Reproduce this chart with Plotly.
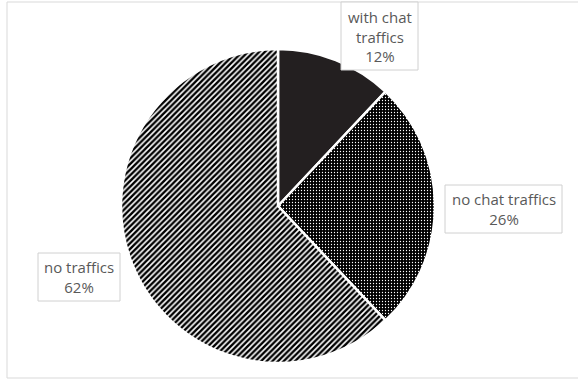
import plotly.graph_objects as go

categories = ["with chat traffics", "no chat traffics", "no traffics"]
shares = [12, 26, 62]
label_texts = ["with chat<br>traffics<br>12%", "no chat traffics<br>26%", "no traffics<br>62%"]

W, H = 578, 381

fig = go.Figure(go.Pie(
    labels=categories,
    values=shares,
    sort=False,
    direction="clockwise",
    rotation=0,
    textinfo="none",
    hoverinfo="label+percent",
    showlegend=False,
    marker=dict(
        colors=["#231f20", "#000000", "#ffffff"],
        line=dict(color="#ffffff", width=2.5),
        pattern=dict(
            shape=["", ".", "/"],
            fgcolor=["#231f20", "#ffffff", "#000000"],
            bgcolor=["#231f20", "#000000", "#ffffff"],
            size=[4, 3, 4],
            solidity=[0.3, 0.15, 0.6],
        ),
    ),
    domain=dict(x=[(278 - 157) / W, (278 + 157) / W],
                y=[(175 - 157) / H, (175 + 157) / H]),
))

def px(x):
    return x / W

def py(y):
    return 1 - y / H

# label boxes (x0, y0, x1, y1) in pixels
boxes = [(341, 2, 418, 70), (445, 185, 562, 233), (38, 253, 120, 301)]

shapes = [
    dict(type="rect", xref="paper", yref="paper",
         x0=px(7), x1=px(580), y0=py(378), y1=py(2),
         line=dict(color="#d9d9d9", width=1), fillcolor="rgba(0,0,0,0)", layer="below"),
]
annotations = []
for (x0, y0, x1, y1), txt in zip(boxes, label_texts):
    shapes.append(dict(type="rect", xref="paper", yref="paper",
                       x0=px(x0), x1=px(x1), y0=py(y1), y1=py(y0),
                       line=dict(color="#d0d0d0", width=1), fillcolor="#ffffff"))
    annotations.append(dict(
        xref="paper", yref="paper",
        x=px((x0 + x1) / 2), y=py((y0 + y1) / 2),
        xanchor="center", yanchor="middle",
        text=txt, showarrow=False, align="center",
        font=dict(family="Open Sans", size=15, color="#595959"),
    ))

fig.update_layout(
    width=W, height=H,
    margin=dict(l=0, r=0, t=0, b=0),
    paper_bgcolor="#ffffff",
    plot_bgcolor="#ffffff",
    shapes=shapes,
    annotations=annotations,
)

fig.write_html("out.html", config={"displayModeBar": False},
               post_script="document.body.style.margin='0';")
